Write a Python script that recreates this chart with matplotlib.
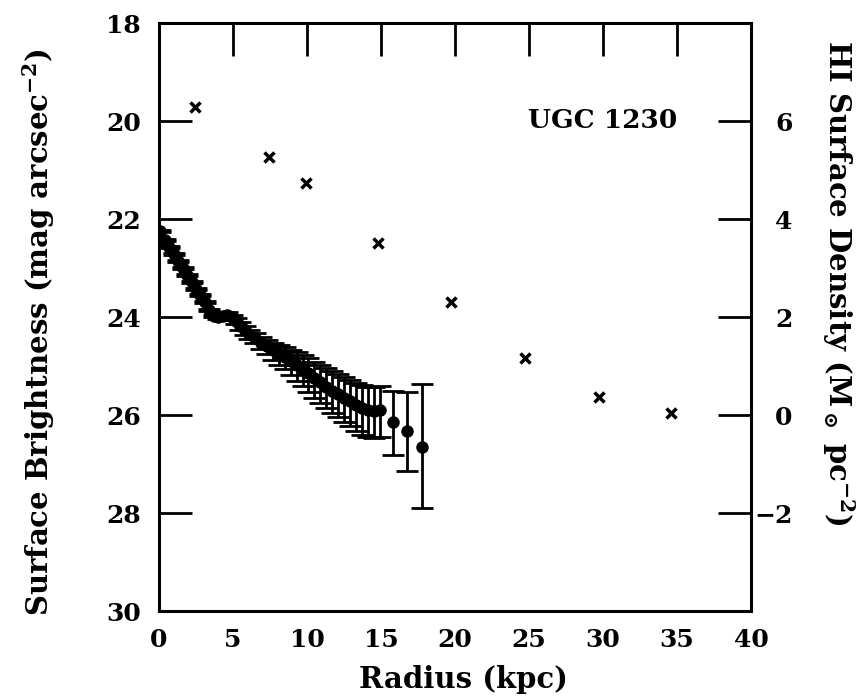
import matplotlib
matplotlib.use('Agg')
import matplotlib.pyplot as plt

plt.rcParams['font.family'] = 'DejaVu Serif'
plt.rcParams['font.weight'] = 'bold'
plt.rcParams['mathtext.fontset'] = 'dejavuserif'
plt.rcParams['mathtext.default'] = 'bf'

# optical surface brightness profile (mag arcsec^-2)
radius = [0.1, 0.4, 0.7, 1.0, 1.3, 1.6, 1.9, 2.2, 2.5, 2.8, 3.1, 3.4, 3.7,
          4.0, 4.3, 4.6, 4.9, 5.2, 5.5, 5.8, 6.1, 6.5, 6.9, 7.3, 7.7, 8.1,
          8.5, 8.9, 9.3, 9.7, 10.1, 10.5, 10.9, 11.3, 11.7, 12.1, 12.5, 12.9,
          13.3, 13.7, 14.1, 14.5, 14.9, 15.8, 16.75, 17.8]
mu = [22.25, 22.42, 22.58, 22.72, 22.85, 23.0, 23.15, 23.28, 23.42, 23.55,
      23.7, 23.85, 23.97, 24.0, 23.98, 23.95, 24.0, 24.08, 24.18, 24.27,
      24.35, 24.42, 24.52, 24.6, 24.68, 24.75, 24.82, 24.9, 24.98, 25.06,
      25.15, 25.25, 25.33, 25.42, 25.5, 25.57, 25.65, 25.72, 25.8, 25.86,
      25.9, 25.92, 25.9, 26.14, 26.32, 26.65]
err_bright = [0.02, 0.02, 0.02, 0.02, 0.02, 0.02, 0.02, 0.02, 0.02, 0.02,
              0.02, 0.02, 0.02, 0.04, 0.04, 0.05, 0.05, 0.06, 0.07, 0.08,
              0.09, 0.1, 0.12, 0.14, 0.16, 0.18, 0.2, 0.23, 0.26, 0.29,
              0.31, 0.33, 0.35, 0.37, 0.39, 0.41, 0.42, 0.44, 0.45, 0.47,
              0.48, 0.49, 0.5, 0.63, 0.79, 1.28]
err_faint = [0.02, 0.02, 0.02, 0.02, 0.02, 0.02, 0.02, 0.02, 0.02, 0.02,
             0.02, 0.02, 0.02, 0.05, 0.05, 0.06, 0.06, 0.07, 0.08, 0.09,
             0.1, 0.12, 0.14, 0.16, 0.19, 0.22, 0.25, 0.28, 0.32, 0.35,
             0.38, 0.4, 0.42, 0.44, 0.46, 0.48, 0.49, 0.51, 0.52, 0.54,
             0.55, 0.55, 0.54, 0.68, 0.82, 1.25]

# HI surface density (Msun pc^-2)
hi_radius = [2.4, 7.4, 9.9, 14.8, 19.7, 24.7, 29.7, 34.6]
hi_sigma = [6.29, 5.27, 4.73, 3.51, 2.31, 1.16, 0.37, 0.04]

fig = plt.figure(figsize=(8.66, 7.0), dpi=100)
ax = fig.add_axes([0.1836, 0.1271, 0.6836, 0.84])

ax.errorbar(radius, mu, yerr=[err_bright, err_faint], fmt='o', color='black',
            ms=8, elinewidth=2, capsize=8, capthick=2)

ax.set_xlim(0, 40)
ax.set_ylim(30, 18)
ax.set_xticks(range(0, 41, 5))
ax.set_yticks(range(18, 31, 2))

for s in ax.spines.values():
    s.set_linewidth(2.2)

ax.tick_params(axis='x', top=True, bottom=False, labelbottom=True,
               direction='in', length=24, width=2, pad=12, labelsize=18)
ax.tick_params(axis='y', left=True, right=False, direction='in',
               length=24, width=2, pad=13, labelsize=18)

ax.set_xlabel('Radius (kpc)', fontsize=21, fontweight='bold', va='center')
ax.xaxis.set_label_coords(0.514, -0.117)
ax.set_ylabel(r'Surface Brightness (mag arcsec$^{-2}$)', fontsize=21,
              fontweight='bold', va='center')
ax.yaxis.set_label_coords(-0.204, 0.474)

ax.text(0.875, 0.835, 'UGC 1230', transform=ax.transAxes, ha='right',
        va='center', fontsize=19, fontweight='bold')

ax2 = ax.twinx()
ax2.plot(hi_radius, hi_sigma, linestyle='none', marker='x', color='black',
         ms=7, mew=2.5)
ax2.set_ylim(-4, 8)
ax2.set_yticks([-2, 0, 2, 4, 6])
ax2.set_yticklabels(['\u22122', '0', '2', '4', '6'])
ax2.tick_params(axis='y', right=True, left=False, direction='in',
                length=24, width=2, pad=30, labelsize=18)
for lbl in ax2.get_yticklabels():
    lbl.set_horizontalalignment('right')
ax2.set_ylabel(r'HI Surface Density (M$_\odot$ pc$^{-2}$)', fontsize=21,
               fontweight='bold', rotation=270, va='center')
ax2.yaxis.set_label_coords(1.147, 0.558)

fig.savefig('out.png', dpi=100, facecolor='white')
